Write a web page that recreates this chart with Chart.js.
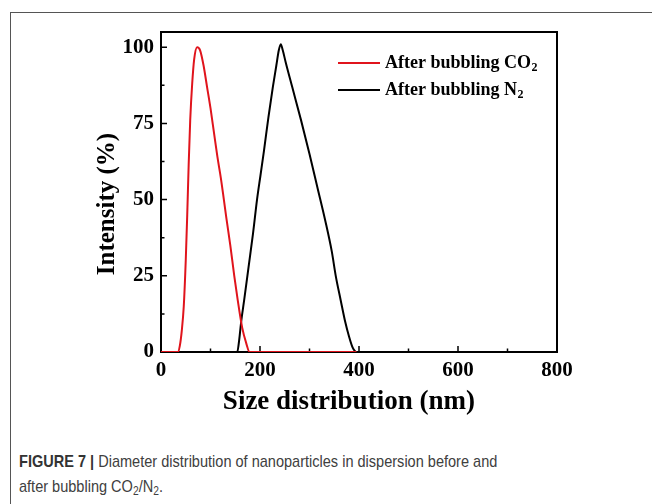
<!DOCTYPE html>
<html>
<head>
<meta charset="utf-8">
<script src="https://cdn.jsdelivr.net/npm/chart.js@4/dist/chart.umd.min.js"></script>
<style>
  html, body { margin: 0; padding: 0; background: #fff; }
  body { width: 652px; height: 504px; position: relative; overflow: hidden; }
  #frame { position: absolute; left: 10px; top: 12px; width: 700px; height: 600px; border: 1.5px solid #555; }
  #chart { position: absolute; left: 0; top: 0; }
  #caption {
    position: absolute; left: 19px; top: 449px; width: 760px;
    font-family: "Liberation Sans", Arial, sans-serif;
    font-size: 17px; line-height: 25px; color: #404040;
    transform: scaleX(0.855); transform-origin: 0 0;
  }
  #caption b { color: #333; }
  #caption sub { font-size: 12px; vertical-align: -3px; line-height: 0; }
</style>
</head>
<body>
<div id="frame"></div>
<canvas id="chart" width="652" height="420"></canvas>
<div id="caption"><b>FIGURE 7 |</b> Diameter distribution of nanoparticles in dispersion before and<br>after bubbling CO<sub>2</sub>/N<sub>2</sub>.</div>
<script>
// values
const seriesLabels = ["After bubbling CO₂", "After bubbling N₂"];
const seriesColors = ["#e0141c", "#000000"];

const sizeCO2 = [0, 34, 38, 42, 46, 50, 53, 56, 59, 63, 67, 73, 79, 86, 93, 100, 107, 114, 121, 127, 132, 140, 148, 155, 164, 172, 179, 395];
const intensityCO2 = [0, 0, 2, 7, 15, 30, 45, 62, 76, 88, 96, 100, 99, 94, 87, 80, 72, 64, 57, 50, 44, 35, 25, 17, 8, 3, 0, 0];

const sizeN2 = [55, 154, 158, 162, 168, 177, 186, 194, 201, 208, 217, 226, 233, 238, 242, 246, 252, 265, 283, 300, 316, 332, 345, 353, 363, 372, 380, 387, 393];
const intensityN2 = [0, 0, 4, 10, 17, 28, 39, 50, 58, 66, 77, 87, 94, 99, 101, 99, 95, 87, 76, 65, 54, 43, 33, 25, 17, 10, 5, 1.5, 0];

const xTicks = [0, 200, 400, 600, 800];
const xMinorTicks = [100, 300, 500, 700];
const yTicks = [0, 25, 50, 75, 100];
const yMinorTicks = [12.5, 37.5, 62.5, 87.5];

const xTitle = "Size distribution (nm)";
const yTitle = "Intensity (%)";

const serif = "'Liberation Serif', 'Times New Roman', serif";

function toPoints(xs, ys) {
  return xs.map((x, i) => ({ x: x, y: ys[i] }));
}

// box around plot area + inward tick marks
const frameTicks = {
  id: "frameTicks",
  beforeDatasetsDraw(chart) {
    const ctx = chart.ctx;
    const a = chart.chartArea;
    const xs = chart.scales.x;
    const ys = chart.scales.y;
    ctx.save();
    ctx.strokeStyle = "#000";
    ctx.lineWidth = 2;
    ctx.strokeRect(a.left, a.top, a.right - a.left, a.bottom - a.top);
    ctx.lineWidth = 1.5;
    ctx.beginPath();
    xTicks.forEach((v) => {
      const px = xs.getPixelForValue(v);
      ctx.moveTo(px, a.bottom); ctx.lineTo(px, a.bottom - 6);
    });
    xMinorTicks.forEach((v) => {
      const px = xs.getPixelForValue(v);
      ctx.moveTo(px, a.bottom); ctx.lineTo(px, a.bottom - 3.5);
    });
    yTicks.forEach((v) => {
      const py = ys.getPixelForValue(v);
      ctx.moveTo(a.left, py); ctx.lineTo(a.left + 6, py);
    });
    yMinorTicks.forEach((v) => {
      const py = ys.getPixelForValue(v);
      ctx.moveTo(a.left, py); ctx.lineTo(a.left + 3.5, py);
    });
    ctx.stroke();

    // y axis title, sits a little below the plot centre in the original
    ctx.fillStyle = "#000";
    ctx.font = "bold 25px " + serif;
    ctx.textAlign = "center";
    ctx.textBaseline = "middle";
    ctx.translate(108, 204);
    ctx.rotate(-Math.PI / 2);
    ctx.fillText(yTitle, 0, 0);
    ctx.restore();
  },
};

// legend inside plot, top right, with subscripts
const innerLegend = {
  id: "innerLegend",
  afterDraw(chart) {
    const ctx = chart.ctx;
    const x0 = 338, lineLen = 42, textX = 385;
    const rows = [63, 90];
    ctx.save();
    chart.data.datasets.forEach((ds, i) => {
      const y = rows[i];
      ctx.strokeStyle = ds.borderColor;
      ctx.lineWidth = 2;
      ctx.beginPath();
      ctx.moveTo(x0, y); ctx.lineTo(x0 + lineLen, y);
      ctx.stroke();
      let main = ds.label, sub = "";
      if (main.endsWith("₂")) { main = main.slice(0, -1); sub = "2"; }
      ctx.fillStyle = "#000";
      ctx.textBaseline = "middle";
      ctx.font = "bold 18px " + serif;
      ctx.fillText(main, textX, y);
      if (sub) {
        const w = ctx.measureText(main).width;
        ctx.font = "bold 12px " + serif;
        ctx.fillText(sub, textX + w + 0.5, y + 5);
      }
    });
    ctx.restore();
  },
};

new Chart(document.getElementById("chart").getContext("2d"), {
  type: "line",
  data: {
    datasets: [
      {
        label: seriesLabels[0],
        data: toPoints(sizeCO2, intensityCO2),
        borderColor: seriesColors[0],
        borderWidth: 2,
        pointRadius: 0,
        cubicInterpolationMode: "monotone",
        fill: false,
      },
      {
        label: seriesLabels[1],
        data: toPoints(sizeN2, intensityN2),
        borderColor: seriesColors[1],
        borderWidth: 2,
        pointRadius: 0,
        cubicInterpolationMode: "monotone",
        fill: false,
      },
    ],
  },
  options: {
    responsive: false,
    animation: false,
    layout: { padding: { left: 0, top: 32, right: 95, bottom: 0 } },
    plugins: {
      legend: { display: false },
      tooltip: { enabled: false },
    },
    scales: {
      x: {
        type: "linear",
        min: 0,
        max: 800,
        border: { display: false },
        grid: { display: false, drawTicks: false },
        afterBuildTicks: (scale) => { scale.ticks = xTicks.map((v) => ({ value: v })); },
        afterFit: (scale) => { scale.height = 68; },
        ticks: {
          padding: 6,
          color: "#000",
          font: { family: serif, size: 21, weight: "bold" },
        },
        title: {
          display: true,
          // trailing spaces nudge the title left like the original
          text: xTitle + "\u00a0\u00a0\u00a0",
          color: "#000",
          font: { family: serif, size: 27, weight: "bold" },
          padding: { top: 0, bottom: 2 },
        },
      },
      y: {
        min: 0,
        max: 105,
        border: { display: false },
        grid: { display: false, drawTicks: false },
        afterBuildTicks: (scale) => { scale.ticks = yTicks.map((v) => ({ value: v })); },
        afterFit: (scale) => { scale.width = 161; },
        ticks: {
          padding: 7,
          color: "#000",
          font: { family: serif, size: 21, weight: "bold" },
        },
      },
    },
  },
  plugins: [frameTicks, innerLegend],
});
</script>
</body>
</html>
